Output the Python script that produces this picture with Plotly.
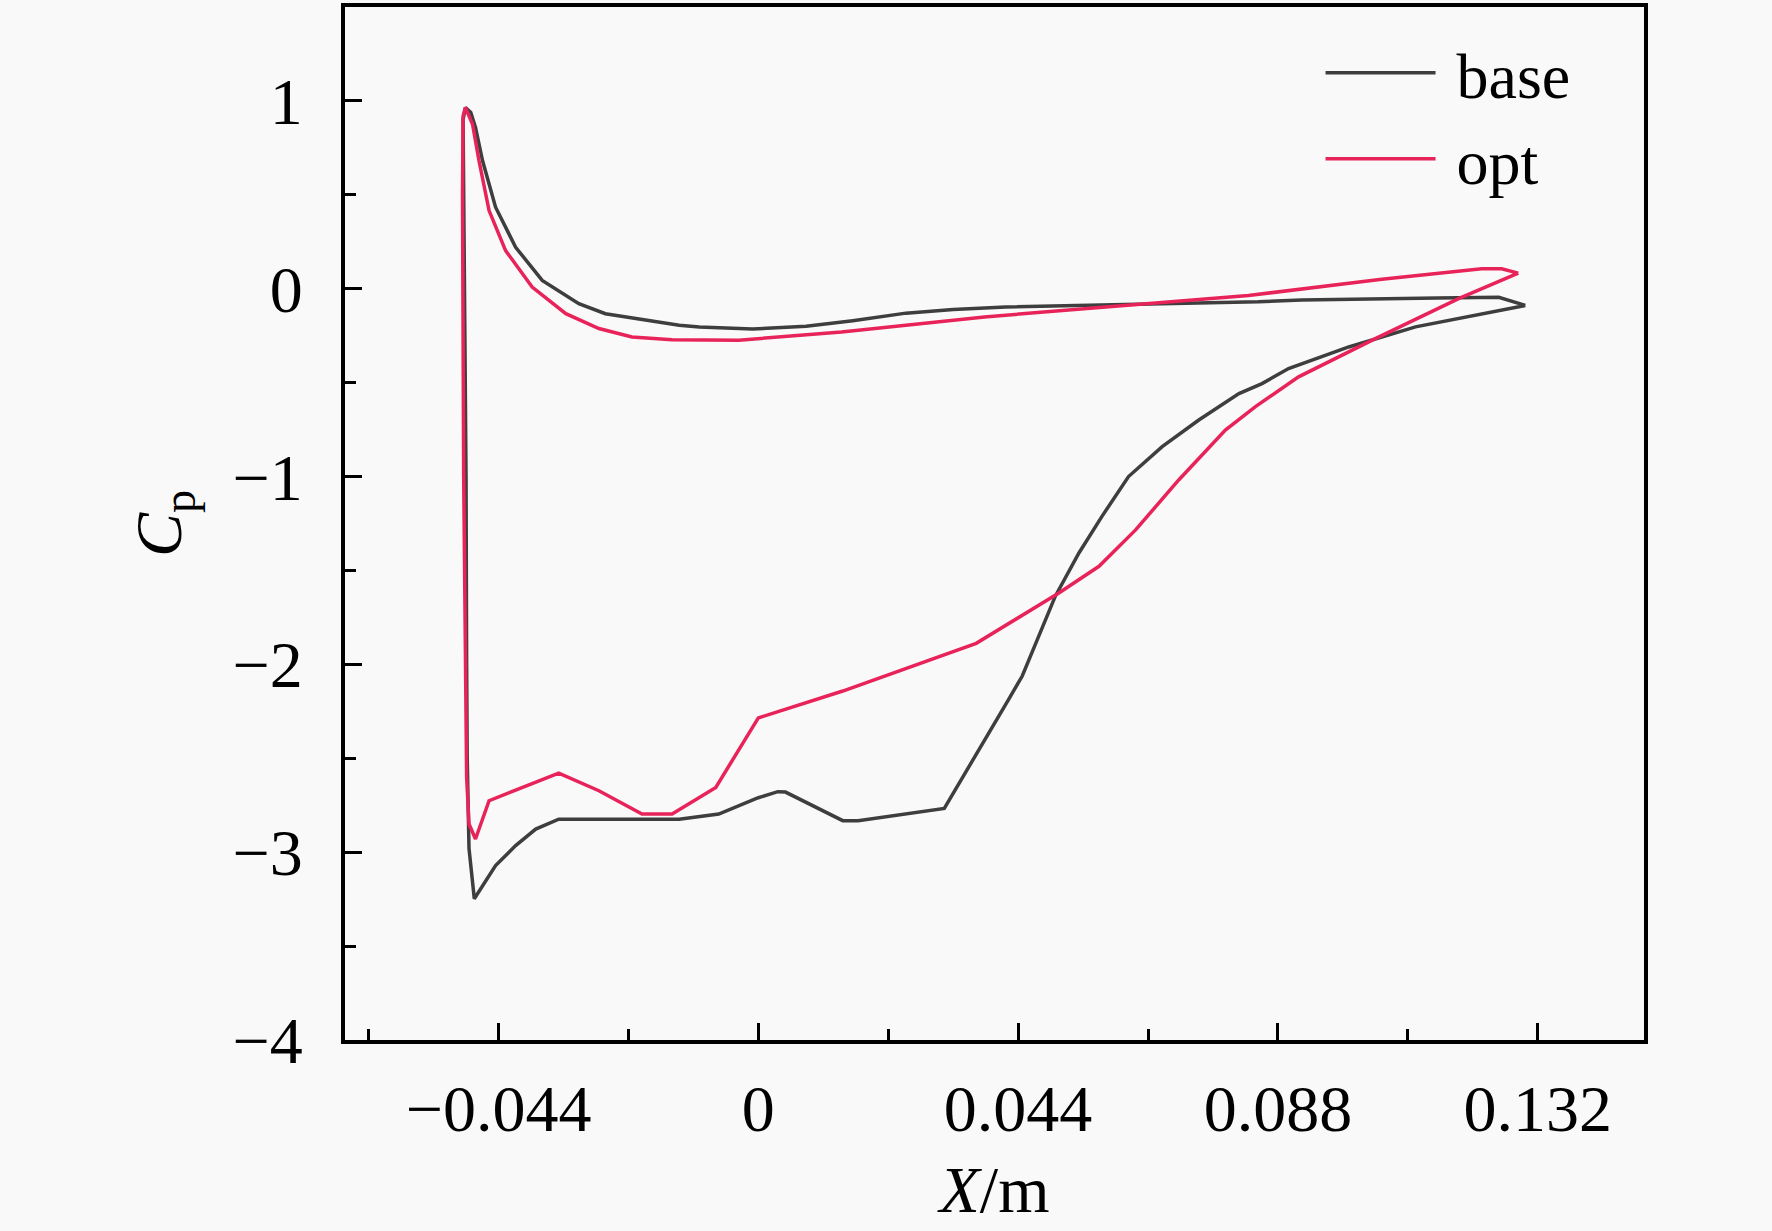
import plotly.graph_objects as go

# ---- data ----
base_x = [0.1299, 0.1254, 0.1150, 0.1056, 0.0920, 0.0847, 0.0720, 0.0595, 0.0419, 0.0330,
          0.0250, 0.0160, 0.0081, -0.0010, -0.0100, -0.0134, -0.0202, -0.0259, -0.0304, -0.0366,
          -0.0411, -0.0445, -0.0467, -0.0479, -0.0487, -0.0496, -0.0500, -0.0499, -0.0497, -0.0495,
          -0.0494, -0.0493, -0.0490, -0.0481, -0.0445, -0.0411, -0.0377, -0.0338, -0.0134, -0.0067,
          0.0000, 0.0033, 0.0046, 0.0143, 0.0169, 0.0315, 0.0424, 0.0447, 0.0503, 0.0543,
          0.0582, 0.0627, 0.0684, 0.0746, 0.0814, 0.0853, 0.0898, 0.1000, 0.1113, 0.1299]
base_y = [-0.089, -0.046, -0.050, -0.053, -0.060, -0.070, -0.078, -0.083, -0.097, -0.110,
          -0.130, -0.170, -0.200, -0.215, -0.204, -0.195, -0.159, -0.133, -0.080, 0.044,
          0.221, 0.434, 0.681, 0.859, 0.938, 0.965, 0.900, 0.600, 0.000, -1.000,
          -2.000, -2.500, -2.980, -3.248, -3.071, -2.965, -2.877, -2.824, -2.824, -2.797,
          -2.710, -2.678, -2.680, -2.832, -2.832, -2.767, -2.186, -2.062, -1.637, -1.407,
          -1.212, -1.000, -0.841, -0.699, -0.558, -0.505, -0.425, -0.310, -0.203, -0.089]

opt_x = [0.1287, 0.1259, 0.1225, 0.1056, 0.0830, 0.0595, 0.0383, 0.0141, -0.0010, -0.0033,
         -0.0146, -0.0214, -0.0270, -0.0326, -0.0383, -0.0428, -0.0456, -0.0473, -0.0484, -0.0496,
         -0.0500, -0.0501, -0.0499, -0.0496, -0.0494, -0.0490, -0.0479, -0.0456, -0.0400, -0.0338,
         -0.0270, -0.0197, -0.0146, -0.0072, 0.0000, 0.0143, 0.0369, 0.0509, 0.0577, 0.0639,
         0.0712, 0.0791, 0.0842, 0.0915, 0.1045, 0.1186, 0.1287]
opt_y = [0.083, 0.106, 0.106, 0.050, -0.036, -0.097, -0.150, -0.230, -0.270, -0.274,
         -0.271, -0.257, -0.212, -0.133, 0.009, 0.203, 0.416, 0.681, 0.876, 0.965,
         0.920, 0.500, -1.000, -2.000, -2.600, -2.850, -2.930, -2.726, -2.655, -2.579,
         -2.673, -2.797, -2.797, -2.655, -2.285, -2.142, -1.888, -1.620, -1.478, -1.284,
         -1.018, -0.753, -0.628, -0.469, -0.266, -0.053, 0.083]

series_names = ["base", "opt"]
x_range = [-0.07, 0.15]
y_range = [-4, 1.5]

FONT = "Liberation Serif, Times New Roman, serif"
BG = "#f9f9f9"
NBSP = "\u00a0"

fig = go.Figure()
fig.add_trace(go.Scatter(x=base_x, y=base_y, mode="lines", name=NBSP + series_names[0],
                         line=dict(color="#3e3e3e", width=3.5)))
fig.add_trace(go.Scatter(x=opt_x, y=opt_y, mode="lines", name=NBSP + series_names[1],
                         line=dict(color="#e8235a", width=3.5)))

fig.update_layout(
    width=1772, height=1231,
    margin=dict(l=345, r=128, t=3, b=191),
    paper_bgcolor=BG, plot_bgcolor=BG,
    font=dict(family=FONT, size=66, color="black"),
    showlegend=True,
    legend=dict(x=0.751, y=0.983, xanchor="left", yanchor="top",
                bgcolor="rgba(0,0,0,0)", itemwidth=110,
                font=dict(family=FONT, size=64, color="black")),
)

axis_common = dict(
    showline=True, linewidth=4, linecolor="black", mirror=True,
    showgrid=False, zeroline=False,
    ticks="inside", ticklen=17, tickwidth=3, tickcolor="black",
    tickfont=dict(family=FONT, size=66, color="black"),
)

fig.update_xaxes(range=x_range, tick0=0, dtick=0.044, ticklabelstandoff=8,
                 minor=dict(tick0=0, dtick=0.022, ticks="inside", ticklen=11,
                            tickwidth=3, tickcolor="black", showgrid=False),
                 title=dict(text="<i>X</i>/m", standoff=23,
                            font=dict(family=FONT, size=66, color="black")),
                 **axis_common)
fig.update_yaxes(range=y_range, tick0=0, dtick=1, ticklabelstandoff=25,
                 minor=dict(tick0=0, dtick=0.5, ticks="inside", ticklen=11,
                            tickwidth=3, tickcolor="black", showgrid=False),
                 title=dict(text="<i>C</i><sub>p</sub>", standoff=30,
                            font=dict(family=FONT, size=66, color="black")),
                 **axis_common)

fig.write_html("out.html",
               config={"displayModeBar": False},
               post_script="document.body.style.margin='0';document.body.style.overflow='hidden';")
